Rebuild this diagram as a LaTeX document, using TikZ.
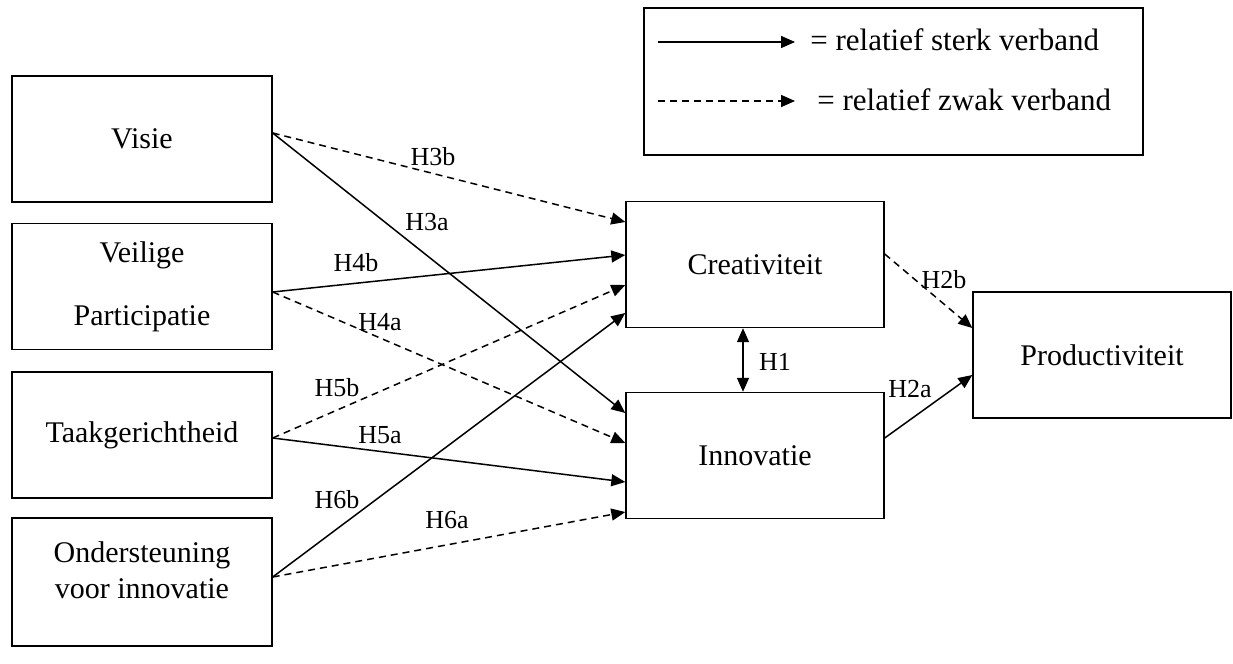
\documentclass[tikz,border=0pt]{standalone}
\usepackage{fontspec}
\setmainfont{Liberation Serif}
\usetikzlibrary{arrows.meta}

\begin{document}
\begin{tikzpicture}[x=0.5pt,y=-0.5pt,
		box/.style={draw,line width=0.7pt,minimum width=130pt,minimum height=63pt,inner sep=0pt,align=center,font=\fontsize{15}{17.8}\selectfont},
		hyp/.style={font=\fontsize{13}{15}\selectfont,inner sep=1pt},
		legtext/.style={anchor=west,inner sep=0pt,font=\fontsize{15.5}{18}\selectfont},
		strong/.style={line width=0.75pt,-{Triangle[length=7pt,width=6pt]}},
		weak/.style={strong,dash pattern=on 3.5pt off 2.5pt}]
		\useasboundingbox (0,0) rectangle (1233,664);
		% factoren links
		\node[box] (visie) at (142,139) {Visie};
		\node[box] (veilig) at (142,286.5) {Veilige\\[13.5pt]Participatie};
		\node[box] (taak) at (142,435) {Taakgerichtheid};
		\node[box,minimum height=64pt] (onder) at (142,582) {Ondersteuning\\voor innovatie\\[-6pt]\mbox{}};
		% uitkomsten
		\node[box,minimum width=129pt] (crea) at (755,264.5) {\raisebox{-1.5pt}{Creativiteit}};
		\node[box,minimum width=129pt] (inno) at (755,455.5) {\raisebox{-2pt}{Innovatie}};
		\node[box,minimum width=129pt] (prod) at (1102,355) {\raisebox{-1.5pt}{Productiviteit}};
		% legenda
		\node[box,minimum width=249.5pt,minimum height=73.5pt] (legend) at (893.5,81.5) {};
		\coordinate (ls1) at (658,42);
		\coordinate (le1) at (795,42);
		\coordinate (ls2) at (658,101);
		\coordinate (le2) at (795,101);
		\draw[strong] (ls1) -- (le1);
		\draw[weak] (ls2) -- (le2);
		\node[legtext] (sterk) at (810,40) {= relatief sterk verband};
		\node[legtext] (zwak) at (817,100) {= relatief zwak verband};
		% verbanden
		\draw[weak] ([yshift=3pt]visie.east) -- ([yshift=21.25pt]crea.west);
		\draw[strong] ([yshift=3pt]visie.east) -- ([yshift=21.25pt]inno.west);
		\draw[strong] ([yshift=-2.75pt]veilig.east) -- ([yshift=4.75pt]crea.west);
		\draw[weak] ([yshift=-2.75pt]veilig.east) -- ([yshift=6.25pt]inno.west);
		\draw[weak] ([yshift=-1.5pt]taak.east) -- ([yshift=-10.25pt]crea.west);
		\draw[strong] ([yshift=-1.5pt]taak.east) -- ([yshift=-13.25pt]inno.west);
		\draw[strong] ([yshift=2.5pt]onder.east) -- ([yshift=-24.25pt]crea.west);
		\draw[weak] ([yshift=2.5pt]onder.east) -- ([yshift=-28.25pt]inno.west);
		\draw[line width=0.75pt,{Triangle[length=7pt,width=6pt]}-{Triangle[length=7pt,width=6pt]}] ([xshift=-6pt]crea.south) -- ([xshift=-6pt]inno.north);
		\draw[weak] ([yshift=5.25pt]crea.east) -- ([yshift=13.5pt]prod.west);
		\draw[strong] ([yshift=8.75pt]inno.east) -- ([yshift=-10pt]prod.west);
		% hypothesen
		\node[hyp] (h3b) at (433,157) {H3b};
		\node[hyp] (h3a) at (427,222) {H3a};
		\node[hyp] (h4b) at (356,263) {H4b};
		\node[hyp] (h4a) at (380,322) {H4a};
		\node[hyp] (h5b) at (337,388) {H5b};
		\node[hyp] (h5a) at (380,435) {H5a};
		\node[hyp] (h6b) at (337,500) {H6b};
		\node[hyp] (h6a) at (447,520) {H6a};
		\node[hyp] (h1) at (775,362) {H1};
		\node[hyp] (h2b) at (944,280) {H2b};
		\node[hyp] (h2a) at (910,389) {H2a};
	\end{tikzpicture}
\end{document}
